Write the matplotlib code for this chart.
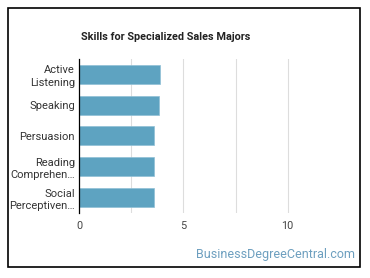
import matplotlib
matplotlib.use("Agg")
import matplotlib.pyplot as plt
from matplotlib.patches import Rectangle

# skills and their importance scores
skills = ["Active\nListening", "Speaking", "Persuasion",
          "Reading\nComprehen\u2026", "Social\nPerceptiven\u2026"]
scores = [3.9, 3.83, 3.6, 3.6, 3.6]
major_ticks = [0, 5, 10]
minor_ticks = [2.5, 7.5]

plt.rcParams["font.family"] = ["Roboto", "DejaVu Sans"]

fig = plt.figure(figsize=(3.7, 2.78), dpi=100)
ax = fig.add_axes([0.2135, 0.234, 0.705, 0.554])

ax.barh(range(len(skills)), scores, height=0.62, color="#5ea3c1",
        edgecolor="#8fc0d6", linewidth=0.5, zorder=3)
ax.set_ylim(4.5, -0.5)
ax.set_xlim(0, 12.5)
ax.set_yticks(range(len(skills)))
ax.set_yticklabels(skills, fontsize=8, color="#333333", linespacing=1.3)
ax.set_xticks(major_ticks)
ax.set_xticks(minor_ticks, minor=True)
ax.set_xticklabels([str(t) for t in major_ticks], fontsize=7.8, color="#444444")
ax.tick_params(axis="both", which="both", length=0)
ax.tick_params(axis="y", pad=3)
ax.tick_params(axis="x", pad=6)
ax.grid(axis="x", which="both", color="#dddddd", linewidth=0.8, zorder=0)
for s in ["top", "right", "bottom"]:
    ax.spines[s].set_visible(False)
ax.spines["left"].set_color("black")
ax.spines["left"].set_linewidth(0.9)
ax.spines["left"].set_zorder(4)

fig.text(0.449, 0.866, "Skills for Specialized Sales Majors", fontsize=7.8,
         fontweight="bold", color="#222222", ha="center", va="center")
fig.text(0.959, 0.083, "BusinessDegreeCentral.com", fontsize=9,
         color="#6d9fbf", ha="right", va="center")

fig.patches.append(Rectangle((0.0216, 0.0396), 0.9514, 0.9334,
                             transform=fig.transFigure, fill=False,
                             edgecolor="black", linewidth=1.2))

fig.savefig("out.png", dpi=100)
